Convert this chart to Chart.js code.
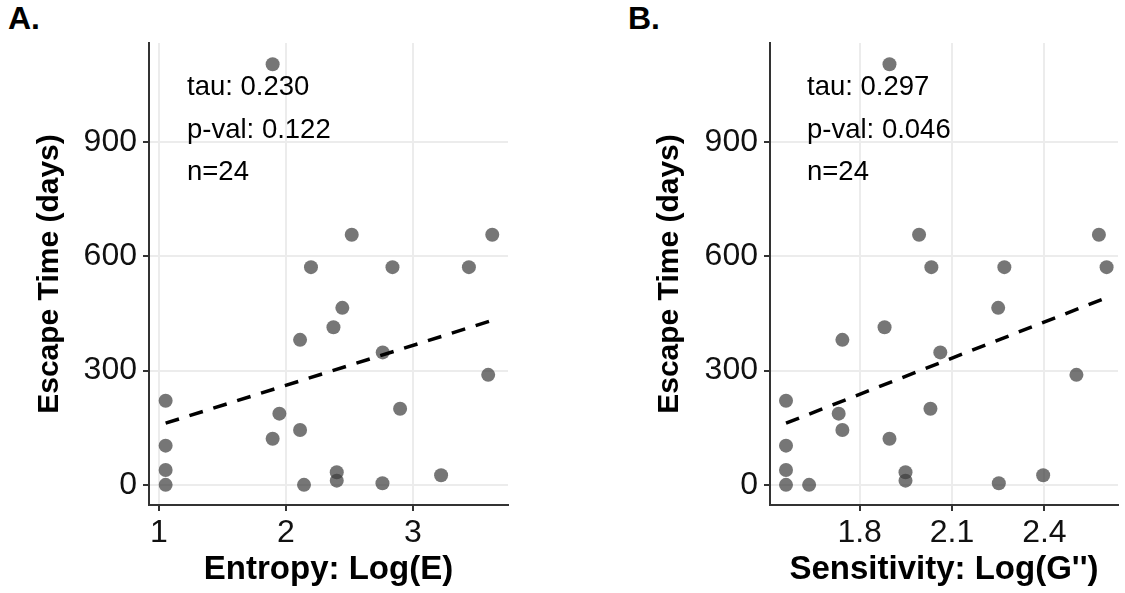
<!DOCTYPE html>
<html>
<head>
<meta charset="utf-8">
<script src="https://cdn.jsdelivr.net/npm/chart.js@4"></script>
<style>
  body { margin: 0; width: 1125px; height: 593px; background: #fff; overflow: hidden; position: relative; font-family: "Liberation Sans", Arial, sans-serif; }
  canvas { position: absolute; top: 0; }
  .tag { position: absolute; top: 2px; font-size: 32px; font-weight: bold; line-height: 1; color: #000; }
</style>
</head>
<body>
<div class="tag" style="left:8px">A.</div>
<div class="tag" style="left:628px">B.</div>
<canvas id="chartA" width="560" height="593" style="left:0"></canvas>
<canvas id="chartB" width="505" height="593" style="left:620px"></canvas>
<script>
// escape time in days, same samples in both panels
const escapeDays = [1105, 657, 657, 572, 572, 572, 465, 414, 381, 348, 289, 221, 187, 200, 144, 121, 103, 39, 0, 0, 33, 11, 4, 25];
const entropyLog = [1.896, 2.519, 3.626, 2.198, 2.840, 3.442, 2.445, 2.375, 2.112, 2.763, 3.594, 1.053, 1.949, 2.900, 2.112, 1.896, 1.053, 1.053, 1.053, 2.143, 2.401, 2.401, 2.761, 3.223];
const sensitivityLog = [1.897, 1.993, 2.577, 2.033, 2.270, 2.602, 2.250, 1.881, 1.744, 2.062, 2.504, 1.561, 1.732, 2.030, 1.744, 1.897, 1.561, 1.561, 1.561, 1.636, 1.949, 1.949, 2.252, 2.396];

// fitted trend lines (end points)
const entropyFitX = [1.053, 3.626];
const entropyFitY = [162, 432];
const sensitivityFitX = [1.561, 2.602];
const sensitivityFitY = [162, 492];

const yTicks = [0, 300, 600, 900];
const entropyTicks = [1, 2, 3];
const sensitivityTicks = [1.8, 2.1, 2.4];

const statsA = ["tau: 0.230", "p-val: 0.122", "n=24"];
const statsB = ["tau: 0.297", "p-val: 0.046", "n=24"];

const FONT = '"Liberation Sans", Arial, sans-serif';
Chart.defaults.font.family = FONT;

const statsText = {
  id: "statsText",
  afterDatasetsDraw(chart, args, opts) {
    const { ctx, chartArea } = chart;
    ctx.save();
    ctx.fillStyle = "#000";
    ctx.font = "27.5px " + FONT;
    ctx.textBaseline = "alphabetic";
    opts.lines.forEach((t, i) => {
      ctx.fillText(t, chartArea.left + opts.dx, chartArea.top + 52 + i * 42.5);
    });
    ctx.restore();
  }
};

function makePanel(id, xs, fitX, fitY, xMin, xMax, xTicks, xTitle, yWidth, padRight, stats, dx, fmt) {
  const points = xs.map((x, i) => ({ x, y: escapeDays[i] }));
  const fit = fitX.map((x, i) => ({ x, y: fitY[i] }));
  return new Chart(document.getElementById(id), {
    type: "scatter",
    data: {
      datasets: [
        { type: "line", data: fit, borderColor: "#000", borderWidth: 3.5, borderDash: [14, 11], pointRadius: 0, fill: false, order: 0 },
        { data: points, backgroundColor: "rgba(60,60,60,0.7)", borderWidth: 0, pointRadius: 7, order: 1 }
      ]
    },
    options: {
      responsive: false,
      animation: false,
      layout: { padding: { top: 43, right: padRight, left: 0, bottom: 0 } },
      plugins: { legend: { display: false }, tooltip: { enabled: false }, statsText: { lines: stats, dx } },
      scales: {
        x: {
          type: "linear", min: xMin, max: xMax,
          afterBuildTicks: s => { s.ticks = xTicks.map(v => ({ value: v })); },
          afterFit: s => { s.height = 88; },
          ticks: { color: "#111", font: { size: 32 }, padding: 3, callback: fmt },
          grid: { color: "#ececec", lineWidth: 2, tickLength: 6, tickColor: "#333", tickWidth: 2 },
          border: { color: "#333", width: 2 },
          title: { display: true, text: xTitle, color: "#000", font: { size: 33, weight: "bold" }, padding: { top: 0, bottom: 3 } }
        },
        y: {
          min: -53, max: 1161,
          afterBuildTicks: s => { s.ticks = yTicks.map(v => ({ value: v })); },
          afterFit: s => { s.width = yWidth; },
          ticks: { color: "#111", font: { size: 32 }, padding: 6, callback: v => String(v) },
          grid: { color: "#ececec", lineWidth: 2, tickLength: 6, tickColor: "#333", tickWidth: 2 },
          border: { color: "#333", width: 2 },
          title: { display: true, text: "Escape Time (days)", color: "#000", font: { size: 30, weight: "bold" }, padding: { top: 32, bottom: 0 } }
        }
      }
    },
    plugins: [statsText]
  });
}

makePanel("chartA", entropyLog, entropyFitX, entropyFitY, 0.922, 3.75, entropyTicks, "Entropy: Log(E)", 149, 52, statsA, 38, v => String(v));
makePanel("chartB", sensitivityLog, sensitivityFitX, sensitivityFitY, 1.509, 2.639, sensitivityTicks, "Sensitivity: Log(G'')", 150, 0, statsB, 37, v => v.toFixed(1));
</script>
</body>
</html>
